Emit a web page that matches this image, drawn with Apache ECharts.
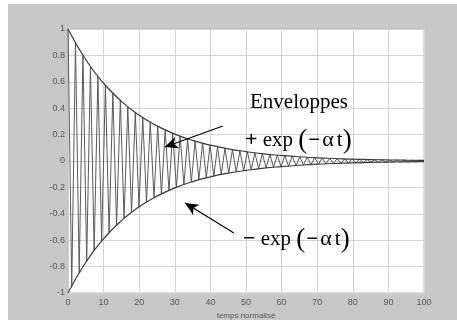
<!DOCTYPE html>
<html>
<head>
<meta charset="utf-8">
<script src="https://cdn.jsdelivr.net/npm/echarts@6/dist/echarts.min.js"></script>
<style>
html,body{margin:0;padding:0;background:#fff;}
#c{width:457px;height:327px;}
</style>
</head>
<body>
<div id="c"></div>
<script>
// Extremum times of the damped oscillation (~2.1 period)
var extremaT = [0,1.05,2.1,3.15,4.2,5.25,6.3,7.35,8.4,9.45,10.5,11.55,12.6,13.65,14.7,15.75,16.8,17.85,18.9,19.95,
21,22.05,23.1,24.15,25.2,26.25,27.3,28.35,29.4,30.45,31.5,32.55,33.6,34.65,35.7,36.75,37.8,38.85,39.9,40.95,
42,43.05,44.1,45.15,46.2,47.25,48.3,49.35,50.4,51.45,52.5,53.55,54.6,55.65,56.7,57.75,58.8,59.85,60.9,61.95,
63,64.05,65.1,66.15,67.2,68.25,69.3,70.35,71.4,72.45,73.5,74.55,75.6,76.65,77.7,78.75,79.8,80.85,81.9,82.95,
84,85.05,86.1,87.15,88.2,89.25,90.3,91.35,92.4,93.45,94.5,95.55,96.6,97.65,98.7,99.75,100];
// Signal values at those extrema
var signalV = [1.000,-0.946,0.895,-0.846,0.800,-0.757,0.716,-0.677,0.641,-0.606,0.573,-0.542,0.513,-0.485,0.459,-0.434,0.410,-0.388,0.367,-0.347,
0.329,-0.311,0.294,-0.278,0.263,-0.249,0.235,-0.223,0.211,-0.199,0.188,-0.178,0.169,-0.159,0.151,-0.143,0.135,-0.128,0.121,-0.114,
0.108,-0.102,0.097,-0.091,0.086,-0.082,0.077,-0.073,0.069,-0.065,0.062,-0.059,0.055,-0.052,0.050,-0.047,0.044,-0.042,0.040,-0.038,
0.036,-0.034,0.032,-0.030,0.028,-0.027,0.025,-0.024,0.023,-0.022,0.020,-0.019,0.018,-0.017,0.016,-0.015,0.015,-0.014,0.013,-0.012,
0.012,-0.011,0.010,-0.010,0.009,-0.009,0.008,-0.008,0.008,-0.007,0.007,-0.006,0.006,-0.006,0.005,-0.005,0.000];
// Envelope exp(-alpha t) read every 5 units
var envT = [0,5,10,15,20,25,30,35,40,45,50,55,60,65,70,75,80,85,90,95,100];
var envV = [1,0.767,0.589,0.452,0.346,0.266,0.204,0.156,0.120,0.092,0.071,0.054,0.042,0.032,0.024,0.019,0.014,0.011,0.0085,0.0065,0.005];
var xTicks = [0,10,20,30,40,50,60,70,80,90,100];
var yTicks = [-1,-0.8,-0.6,-0.4,-0.2,0,0.2,0.4,0.6,0.8,1];
var xName = 'temps normalisé';
var labels = {env:'Enveloppes', plus:'+', minus:'\u2212', exp:'exp', alpha:'\u03b1', t:'t', neg:'\u2212'};
// Arrow endpoints in data units (annotation)
var arrowPlus = [[43.5,0.265],[27.2,0.106]];
var arrowMinus = [[46.6,-0.545],[32.9,-0.318]];

var sig = extremaT.map(function(t,i){return [t, signalV[i]];});
var envUp = envT.map(function(t,i){return [t, envV[i]];});
var envDn = envT.map(function(t,i){return [t, -envV[i]];});

var chart = echarts.init(document.getElementById('c'), null, {renderer:'canvas'});
var serif = '"Liberation Serif","DejaVu Serif",serif';
var rich = {
  s:{fontFamily:serif,fontSize:22,fontWeight:'bold',color:'#000'},
  t:{fontFamily:serif,fontSize:21,color:'#000'},
  g:{fontFamily:serif,fontSize:22,color:'#000',padding:[0,3,0,1]},
  p:{fontFamily:serif,fontSize:27,color:'#000'},
  m:{fontFamily:serif,fontSize:21,fontWeight:'bold',color:'#000',padding:[0,1,0,1]}
};
function exprText(sign){
  return '{s|'+sign+'}{t| '+labels.exp+' }{p|(}{m|'+labels.neg+'}{g|'+labels.alpha+'}{t|'+labels.t+'}{p|)}';
}
chart.setOption({
  animation:false,
  backgroundColor:'#fff',
  graphic:[
    {type:'rect', z:-10, shape:{x:8,y:4,width:449,height:316}, style:{fill:'#c8c8c8'}},
    {type:'text', z:100, left:250, top:92, style:{text:labels.env, font:'21px '+serif, fill:'#000'}},
    {type:'text', z:100, left:245, top:127, style:{text:exprText(labels.plus), rich:rich}},
    {type:'text', z:100, left:243, top:226, style:{text:exprText(labels.minus), rich:rich}}
  ],
  grid:{left:68,right:33,top:29,bottom:34,show:true,backgroundColor:'#fff',borderColor:'#bdbdbd',borderWidth:1},
  xAxis:{type:'value',min:0,max:100,interval:10,
    name:xName,nameLocation:'middle',nameGap:16,
    nameTextStyle:{fontSize:8,color:'#555',fontFamily:'"Liberation Sans",Arial,sans-serif'},
    axisLine:{show:false},axisTick:{show:false},
    axisLabel:{fontSize:9,color:'#555',margin:5,fontFamily:'"Liberation Sans",Arial,sans-serif'},
    splitLine:{show:true,lineStyle:{color:'#d4d4d4',width:1}}},
  yAxis:{type:'value',min:-1,max:1,interval:0.2,
    axisLine:{show:false},axisTick:{show:false},
    axisLabel:{fontSize:9,color:'#555',margin:3,fontFamily:'"Liberation Sans",Arial,sans-serif',
      formatter:function(v){return String(Math.round(v*10)/10);}},
    splitLine:{show:true,lineStyle:{color:'#d4d4d4',width:1}}},
  series:[
    {type:'line',data:sig,showSymbol:false,lineStyle:{color:'#5a5a5a',width:1},z:2},
    {type:'line',data:envUp,smooth:true,showSymbol:false,lineStyle:{color:'#3a3a3a',width:1.2},z:3},
    {type:'line',data:envDn,smooth:true,showSymbol:false,lineStyle:{color:'#3a3a3a',width:1.2},z:3,
      markLine:{silent:true,symbol:['none','arrow'],symbolSize:[9,13],label:{show:false},
        lineStyle:{color:'#000',width:1.2,type:'solid'},
        data:[
          [{coord:arrowPlus[0]},{coord:arrowPlus[1]}],
          [{coord:arrowMinus[0]},{coord:arrowMinus[1]}]
        ]}}
  ]
});
</script>
</body>
</html>
